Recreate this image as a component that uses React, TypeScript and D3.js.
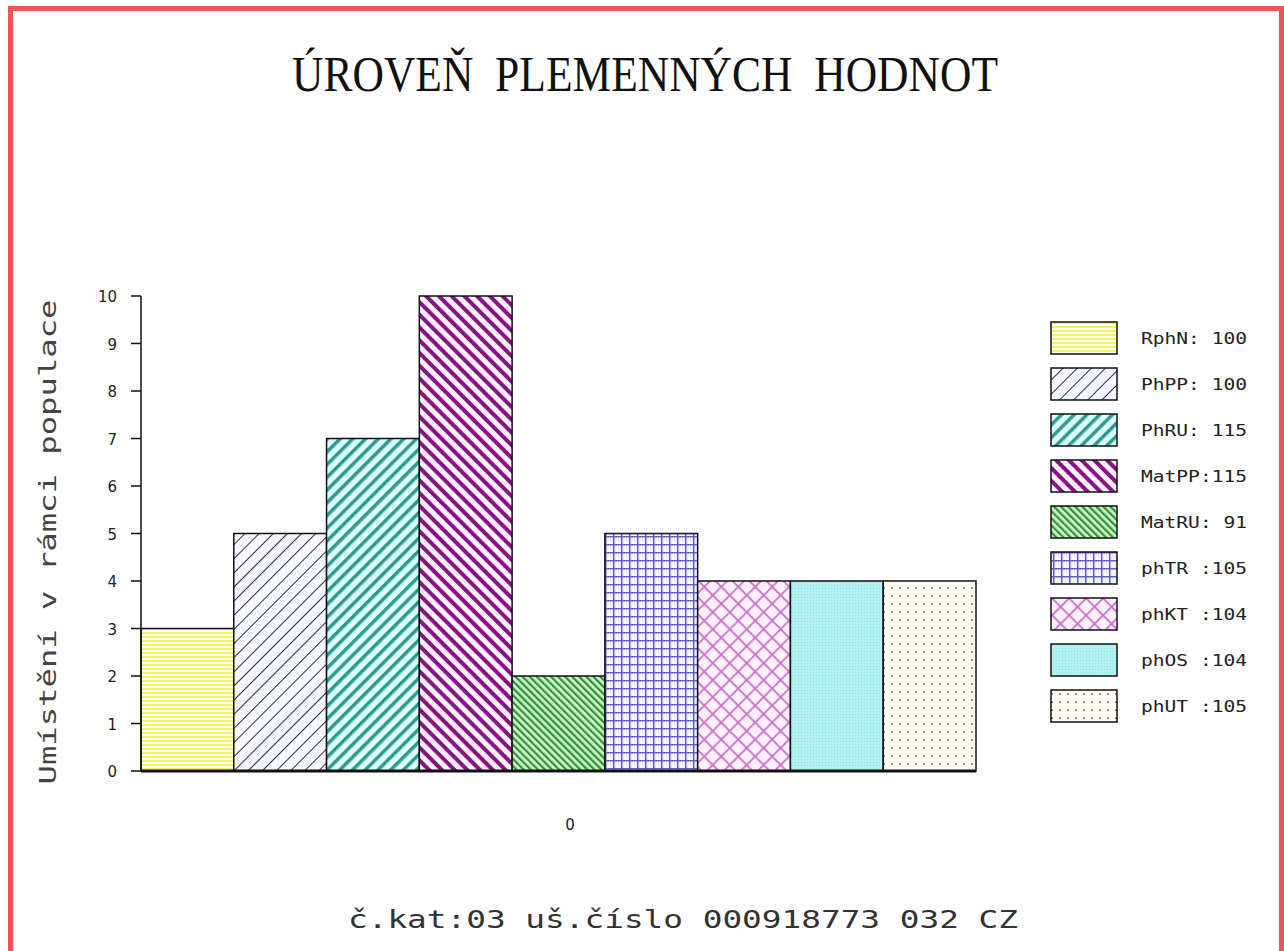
import * as d3 from 'd3';
import React from 'react';

// data
const codes = ['RphN', 'PhPP', 'PhRU', 'MatPP', 'MatRU', 'phTR', 'phKT', 'phOS', 'phUT'];
const placements = [3, 5, 7, 10, 2, 5, 4, 4, 4];
const legendLabels = ['RphN: 100', 'PhPP: 100', 'PhRU: 115', 'MatPP:115', 'MatRU: 91', 'phTR :105', 'phKT :104', 'phOS :104', 'phUT :105'];
const yTicks = [0, 1, 2, 3, 4, 5, 6, 7, 8, 9, 10];
const xCategory = ['0'];

const title = 'ÚROVEŇ  PLEMENNÝCH  HODNOT';
const yTitle = 'Umístění v rámci populace';
const footer = 'č.kat:03 uš.číslo 000918773 032 CZ';

const W = 1284;
const H = 951;
const mono = '"DejaVu Sans Mono", monospace';

function Patterns() {
    // hatch fills, one per bar
    return (
        <defs>
            <pattern id="p0" width="4" height="4" patternUnits="userSpaceOnUse">
                <rect width="4" height="4" fill="#ffffff" />
                <rect width="4" height="2" fill="#f4f45a" />
            </pattern>
            <pattern id="p1" width="10" height="10" patternUnits="userSpaceOnUse" patternTransform="rotate(45)">
                <rect width="10" height="10" fill="#f7f7ff" />
                <line x1="0" y1="0" x2="0" y2="10" stroke="#2b2b55" strokeWidth="2" />
            </pattern>
            <pattern id="p2" width="9" height="9" patternUnits="userSpaceOnUse" patternTransform="rotate(45)">
                <rect width="9" height="9" fill="#dcffff" />
                <line x1="0" y1="0" x2="0" y2="9" stroke="#2e9a8c" strokeWidth="7" />
            </pattern>
            <pattern id="p3" width="9" height="9" patternUnits="userSpaceOnUse" patternTransform="rotate(-45)">
                <rect width="9" height="9" fill="#fff0ff" />
                <line x1="0" y1="0" x2="0" y2="9" stroke="#851485" strokeWidth="8" />
            </pattern>
            <pattern id="p4" width="5" height="5" patternUnits="userSpaceOnUse" patternTransform="rotate(-45)">
                <rect width="5" height="5" fill="#d2f2d2" />
                <line x1="0" y1="0" x2="0" y2="5" stroke="#2f962f" strokeWidth="4.5" />
            </pattern>
            <pattern id="p5" width="8" height="8" patternUnits="userSpaceOnUse" x="141" y="296">
                <rect width="8" height="8" fill="#f2f2ff" />
                <line x1="0" y1="0" x2="8" y2="0" stroke="#6262bd" strokeWidth="3" />
                <line x1="0" y1="0" x2="0" y2="8" stroke="#6262bd" strokeWidth="3" />
            </pattern>
            <pattern id="p6" width="12" height="12" patternUnits="userSpaceOnUse" patternTransform="rotate(45)">
                <rect width="12" height="12" fill="#fff0ff" />
                <line x1="0" y1="0" x2="12" y2="0" stroke="#c870c8" strokeWidth="3.5" />
                <line x1="0" y1="0" x2="0" y2="12" stroke="#c870c8" strokeWidth="3.5" />
            </pattern>
            <pattern id="p7" width="3" height="3" patternUnits="userSpaceOnUse">
                <rect width="3" height="3" fill="#b4f2f2" />
                <rect width="1" height="1" fill="#8ae4e4" />
            </pattern>
            <pattern id="p8" width="8" height="8" patternUnits="userSpaceOnUse">
                <rect width="8" height="8" fill="#fffdf4" />
                <circle cx="4" cy="4" r="1.1" fill="#77776e" />
            </pattern>
        </defs>
    );
}

export default function App() {
    const x = d3.scaleBand<string>().domain(codes).range([141, 976]).padding(0);
    const y = d3.scaleLinear().domain([0, 10]).range([771, 296]);
    // the category label sits a bit right of the bars' centre
    const xOuter = d3.scaleBand<string>().domain(xCategory).range([141, 999]);

    const legendY = d3.scalePoint<string>().domain(codes).range([338, 706]);

    return (
        <svg width={W} height={H} style={{ position: 'absolute', left: 0, top: 0 }}>
            <Patterns />
            <rect x="0" y="0" width={W} height={H} fill="#ffffff" />
            <rect x="10.5" y="8.5" width={1271} height={945} fill="#fefefe" stroke="#ea5656" strokeWidth="5" />

            <text x={645} y={91} textAnchor="middle" fontFamily='"Liberation Serif", serif' fontSize="50"
                textLength={706} lengthAdjust="spacingAndGlyphs" fill="#111"
                style={{ whiteSpace: 'pre' }}>{title}</text>

            {/* bars */}
            {codes.map((c, i) => (
                <rect key={c} x={x(c)} y={y(placements[i])} width={x.bandwidth()} height={y(0) - y(placements[i])}
                    fill={`url(#p${i})`} stroke="#111" strokeWidth="1.5" />
            ))}

            {/* y axis */}
            <line x1={141} x2={141} y1={y(10)} y2={y(0)} stroke="#111" strokeWidth="1.5" />
            {yTicks.map(t => (
                <g key={t}>
                    <line x1={131} x2={141} y1={y(t)} y2={y(t)} stroke="#111" strokeWidth="1.5" />
                    <text x={117} y={y(t) + 6} textAnchor="end" fontFamily='"DejaVu Sans", sans-serif' fontSize="15"
                        fill="#222">{t}</text>
                </g>
            ))}
            <line x1={141} x2={976} y1={y(0)} y2={y(0)} stroke="#111" strokeWidth="3" />

            {xCategory.map(c => (
                <text key={c} x={(xOuter(c) || 0) + xOuter.bandwidth() / 2} y={830} textAnchor="middle"
                    fontFamily='"DejaVu Sans", sans-serif' fontSize="15" fill="#222">{c}</text>
            ))}

            <text transform={`translate(56,${542}) rotate(-90)`} textAnchor="middle" fontFamily={mono} fontSize="23"
                textLength={485} lengthAdjust="spacingAndGlyphs" fill="#444">{yTitle}</text>

            {/* legend */}
            {codes.map((c, i) => (
                <g key={c} transform={`translate(0,${legendY(c)})`}>
                    <rect x={1051} y={-16} width={66} height={32} fill={`url(#p${i})`} stroke="#111" strokeWidth="1.5" />
                    <text x={1141} y={6} fontFamily={mono} fontSize="15" textLength={106} lengthAdjust="spacingAndGlyphs"
                        fill="#222" style={{ whiteSpace: 'pre' }}>{legendLabels[i]}</text>
                </g>
            ))}

            <text x={348} y={928} fontFamily={mono} fontSize="25" textLength={670} lengthAdjust="spacingAndGlyphs"
                fill="#333">{footer}</text>
        </svg>
    );
}
